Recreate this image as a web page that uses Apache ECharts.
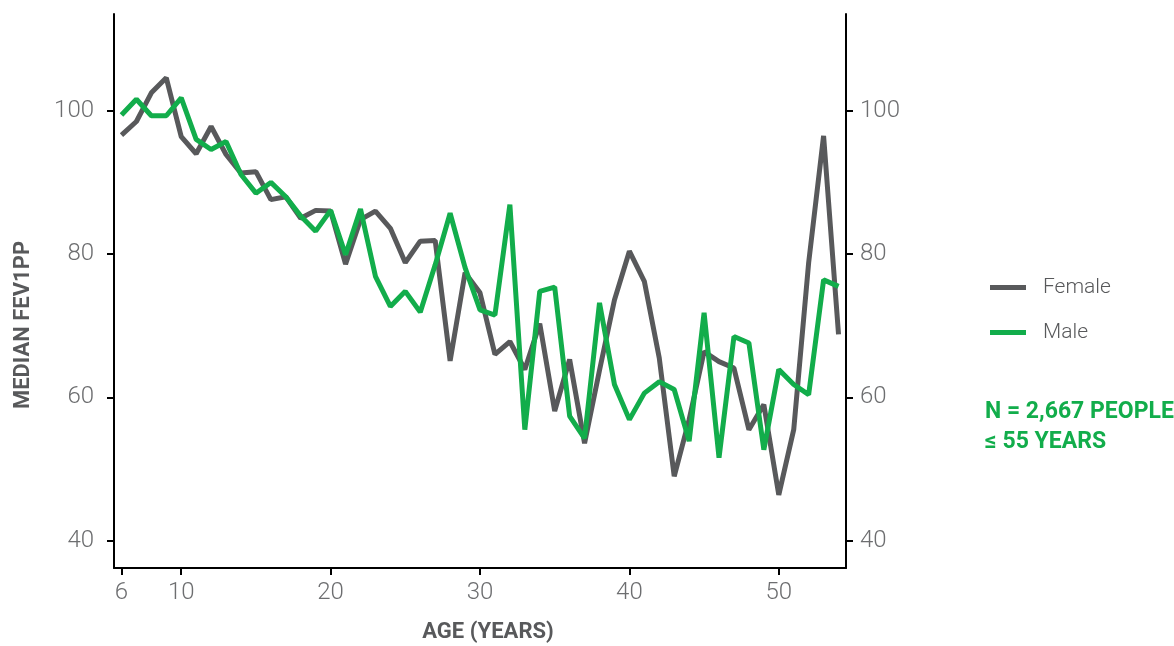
<!DOCTYPE html>
<html>
<head>
<meta charset="utf-8">
<script src="https://cdn.jsdelivr.net/npm/echarts@6/dist/echarts.min.js"></script>
<style>
  html, body { margin: 0; padding: 0; background: #fff; }
  #chart { width: 1174px; height: 646px; }
</style>
</head>
<body>
<div id="chart"></div>
<script>
// Median FEV1 percent predicted by age, split by sex
const ages = [6, 7, 8, 9, 10, 11, 12, 13, 14, 15, 16, 17, 18, 19, 20, 21, 22, 23, 24, 25,
  26, 27, 28, 29, 30, 31, 32, 33, 34, 35, 36, 37, 38, 39, 40, 41, 42, 43, 44, 45,
  46, 47, 48, 49, 50, 51, 52, 53, 54];

const female = [96.6, 98.5, 102.5, 104.6, 96.4, 94.0, 97.8, 93.9, 91.3, 91.5,
  87.6, 88.0, 85.0, 86.1, 86.0, 78.6, 84.8, 86.0, 83.6, 78.8,
  81.8, 81.9, 65.1, 77.4, 74.6, 66.0, 67.8, 63.9, 70.3, 58.1,
  65.3, 53.6, 63.8, 73.6, 80.4, 76.2, 65.5, 49.0, 56.9, 66.4,
  65.0, 64.1, 55.5, 59.0, 46.4, 55.5, 78.8, 96.5, 68.8];

const male = [99.4, 101.6, 99.3, 99.3, 101.8, 96.0, 94.6, 95.7, 91.1, 88.5,
  90.0, 88.0, 85.3, 83.2, 86.1, 79.9, 86.3, 76.9, 72.7, 74.8,
  71.9, 78.5, 85.7, 78.1, 72.2, 71.5, 86.9, 55.5, 74.8, 75.4,
  57.4, 54.3, 73.2, 61.8, 56.9, 60.6, 62.2, 61.1, 53.9, 71.8,
  51.6, 68.5, 67.6, 52.7, 63.9, 61.8, 60.4, 76.4, 75.5];

const xTicks = [6, 10, 20, 30, 40, 50];
const yTicks = [40, 60, 80, 100];

const FONT = '"Liberation Sans Narrow", "Roboto", "Liberation Sans", sans-serif';
const GREY = '#58595b';
const GREEN = '#12ad4b';
const TICK_GREY = '#6d6e70';

const toPairs = vals => ages.map((a, i) => [a, vals[i]]);

const chart = echarts.init(document.getElementById('chart'));

const yAxisBase = {
  type: 'value',
  min: 36.2,
  max: 113.5,
  splitLine: { show: false },
  axisLine: { show: true, lineStyle: { color: '#000', width: 2 } },
  axisTick: { show: true, length: 7, lineStyle: { color: '#000', width: 2 }, customValues: yTicks }
};

const tickLabel = { color: TICK_GREY, fontSize: 24, fontWeight: 300, fontFamily: FONT };

chart.setOption({
  animation: false,
  backgroundColor: '#fff',
  grid: { left: 114, right: 328, top: 14, bottom: 78 },
  xAxis: {
    type: 'value',
    min: 5.5,
    max: 54.5,
    splitLine: { show: false },
    axisLine: { show: true, lineStyle: { color: '#000', width: 2 } },
    axisTick: { show: true, length: 7, lineStyle: { color: '#000', width: 2 }, customValues: xTicks },
    axisLabel: Object.assign({ margin: 13, customValues: xTicks }, tickLabel)
  },
  yAxis: [
    Object.assign({}, yAxisBase, {
      position: 'left',
      axisLabel: Object.assign({ margin: 20, customValues: yTicks }, tickLabel)
    }),
    Object.assign({}, yAxisBase, {
      position: 'right',
      axisLabel: Object.assign({ margin: 14, customValues: yTicks }, tickLabel)
    })
  ],
  legend: {
    orient: 'vertical',
    left: 985,
    top: 272,
    itemWidth: 36,
    itemHeight: 5,
    itemGap: 24,
    icon: 'rect',
    textStyle: { color: GREY, fontSize: 21, fontFamily: '"Roboto", "Liberation Sans", sans-serif', fontWeight: 300, padding: [0, 0, 0, 12] },
    data: ['Female', 'Male']
  },
  graphic: [
    {
      // x-axis title
      type: 'text',
      x: 488,
      y: 632,
      style: {
        text: 'AGE (YEARS)',
        fill: GREY,
        font: 'bold 22px ' + FONT,
        textAlign: 'center',
        textVerticalAlign: 'middle'
      }
    },
    {
      // y-axis title
      type: 'text',
      x: 23,
      y: 325,
      rotation: Math.PI / 2,
      style: {
        text: 'MEDIAN FEV1PP',
        fill: GREY,
        font: 'bold 22px ' + FONT,
        textAlign: 'center',
        textVerticalAlign: 'middle'
      }
    },
    {
      type: 'text',
      left: 985,
      top: 397,
      style: {
        text: 'N = 2,667 PEOPLE\n≤ 55 YEARS',
        fill: GREEN,
        font: 'bold 23px ' + FONT,
        lineHeight: 30
      }
    }
  ],
  series: [
    {
      name: 'Female',
      type: 'line',
      data: toPairs(female),
      showSymbol: false,
      symbol: 'none',
      itemStyle: { color: GREY },
      lineStyle: { color: GREY, width: 5 }
    },
    {
      name: 'Male',
      type: 'line',
      data: toPairs(male),
      showSymbol: false,
      symbol: 'none',
      itemStyle: { color: GREEN },
      lineStyle: { color: GREEN, width: 5 }
    }
  ]
});
</script>
</body>
</html>
